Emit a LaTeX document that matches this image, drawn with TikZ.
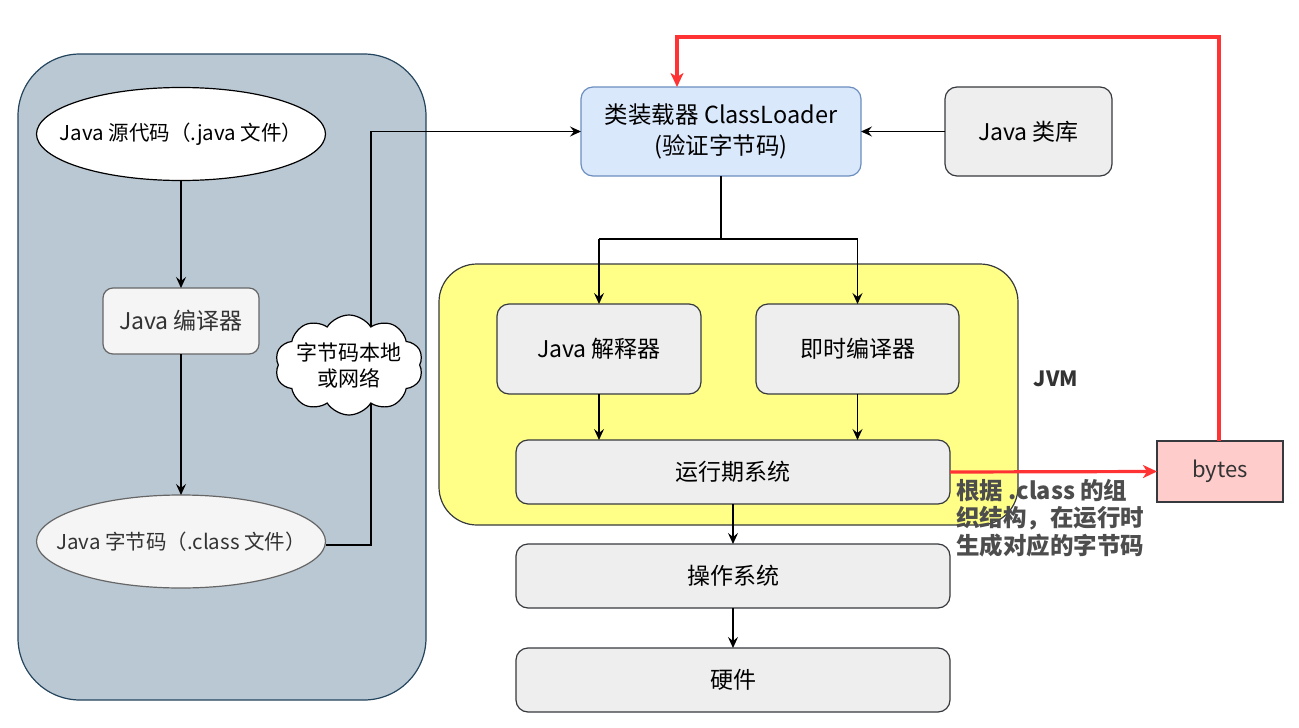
\documentclass[tikz,border=0pt]{standalone}
\usepackage{fontspec}
\newfontfamily\cjk{Noto Sans CJK SC}
\usetikzlibrary{shapes.geometric,shapes.symbols,arrows.meta}
\definecolor{panelfill}{HTML}{BAC8D3}
\definecolor{panelline}{HTML}{23445D}
\definecolor{lightfill}{HTML}{F5F5F5}
\definecolor{lightline}{HTML}{666666}
\definecolor{darktext}{HTML}{333333}
\definecolor{blfill}{HTML}{DAE8FC}
\definecolor{blline}{HTML}{6C8EBF}
\definecolor{grfill}{HTML}{EEEEEE}
\definecolor{grline}{HTML}{36393D}
\definecolor{jvmfill}{HTML}{FFFF88}
\definecolor{pkfill}{HTML}{FFCCCC}
\definecolor{redline}{HTML}{FF3333}
\definecolor{notetext}{HTML}{4D4D4D}
\tikzset{
  every node/.style={font=\cjk\fontsize{23}{27}\selectfont, inner sep=0pt, outer sep=0pt},
  boxg/.style={draw=grline, fill=grfill, line width=1.2pt, rounded corners=12pt},
  arr/.style={-{Stealth[length=11pt,width=10pt,inset=4pt]}, line width=1.3pt, black},
  redarr/.style={-{Stealth[length=14pt,width=13pt,inset=4pt]}, line width=3.2pt, redline},
  plain/.style={line width=1.3pt, black}
}
\begin{document}
\begin{tikzpicture}[x=1pt,y=-1pt]
\useasboundingbox (0,0) rectangle (1299,728);
% left panel
\node[draw=panelline, fill=panelfill, line width=1.2pt, rounded corners=62pt, minimum width=408pt, minimum height=646pt] (panel) at (222,377) {};
% JVM panel
\node[draw=grline, fill=jvmfill, line width=1.2pt, rounded corners=38pt, minimum width=579pt, minimum height=261pt] (jvm) at (728.5,394.5) {};
\node[font=\cjk\fontsize{21}{24}\selectfont\bfseries, text=darktext] (jvmlabel) at (1056,379) {JVM};

% left column
\node[draw=black, fill=white, line width=1.2pt, ellipse, minimum width=289pt, minimum height=93pt] (src) at (181,134) {};
\node[font=\cjk\fontsize{20.5}{24}\selectfont] (srctext) at (src.center) {Java 源代码（.java 文件）};
\node[draw=lightline, fill=lightfill, line width=1.2pt, rounded corners=10pt, minimum width=156pt, minimum height=66pt, text=darktext] (javac) at (181,321) {Java 编译器};
\node[draw=lightline, fill=lightfill, line width=1.2pt, ellipse, minimum width=289pt, minimum height=93pt] (cls) at (181,541.5) {};
\node[text=darktext, font=\cjk\fontsize{20.5}{24}\selectfont] (clstext) at (cls.center) {Java 字节码（.class 文件）};

% right column
\node[draw=blline, fill=blfill, line width=1.2pt, rounded corners=12pt, minimum width=280pt, minimum height=89pt, align=center, font=\cjk\fontsize{23.5}{31}\selectfont] (cl) at (721,131.5) {类装载器 ClassLoader\\(验证字节码)};
\node[boxg, minimum width=167pt, minimum height=89pt] (lib) at (1028.5,131.5) {Java 类库};
\node[boxg, minimum width=204pt, minimum height=90pt] (interp) at (599,349) {Java 解释器};
\node[boxg, minimum width=203pt, minimum height=90pt] (jit) at (857.5,349) {即时编译器};
\node[boxg, minimum width=434pt, minimum height=64pt] (rt) at (733,472) {运行期系统};
\node[boxg, minimum width=434pt, minimum height=64pt] (os) at (733,576) {操作系统};
\node[boxg, minimum width=434pt, minimum height=64pt] (hw) at (733,680) {硬件};
\node[draw=grline, fill=pkfill, line width=1.2pt, minimum width=126pt, minimum height=61pt, text=darktext, font=\cjk\fontsize{22}{24}\selectfont] (bytes) at (1220,471.5) {bytes};
\node[anchor=north west, align=left, text=notetext, font=\cjk\fontsize{23.5}{27.5}\selectfont\bfseries] (note) at (956,479) {根据 .class 的组\\织结构，在运行时\\生成对应的字节码};

% connectors
\draw[arr] (src.south) -- (javac.north);
\draw[arr] (javac.south) -- (cls.north);
\coordinate (c1) at (371,545);
\coordinate (c2) at (371,131.5);
\draw[arr] (cls.east |- c1) -- (c1) -- (c2) -- (cl.west);
\node[cloud, cloud puffs=10, cloud puff arc=115, cloud ignores aspect, draw=black, fill=white, line width=1.2pt, minimum width=148pt, minimum height=100pt] (cloud) at (349,365) {};
\node[align=center, font=\cjk\fontsize{21}{26}\selectfont] (cloudtext) at (cloud.center) {字节码本地\\或网络};
\draw[arr] (lib.west) -- (cl.east);
\coordinate (sp) at (721,239);
\draw[plain] (cl.south) -- (sp);
\draw[plain] (interp.north |- sp) -- (jit.north |- sp);
\draw[arr] (interp.north |- sp) -- (interp.north);
\draw[arr] (jit.north |- sp) -- (jit.north);
\draw[arr] (interp.south) -- (interp.south |- rt.north);
\draw[arr] (jit.south) -- (jit.south |- rt.north);
\draw[arr] (rt.south) -- (os.north);
\draw[arr] (os.south) -- (hw.north);
\draw[redarr] (rt.east) -- (bytes.west);
\coordinate (r1) at (1219,37);
\coordinate (r2) at (677,37);
\draw[redarr] (bytes.north -| r1) -- (r1) -- (r2) -- (r2 |- cl.north);
\end{tikzpicture}
\end{document}
